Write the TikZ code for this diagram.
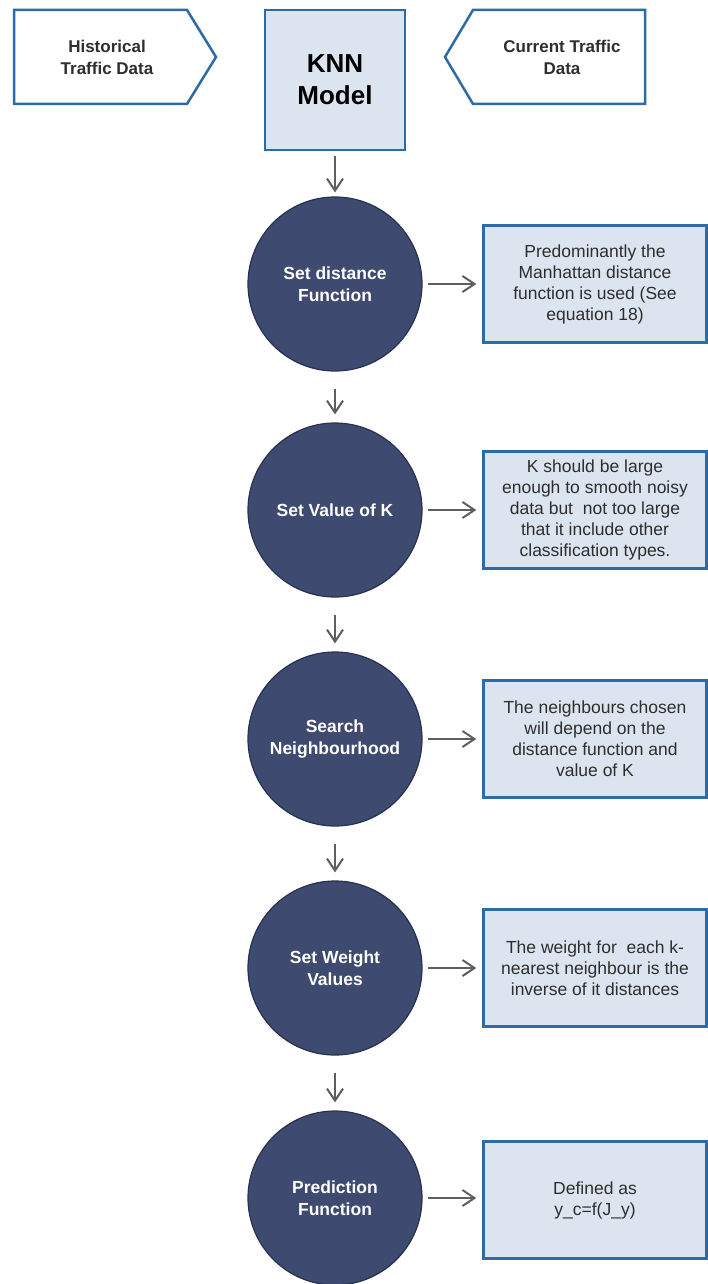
\documentclass[tikz,border=0pt]{standalone}
\usepackage{fontspec}
\setmainfont{Liberation Sans}
\usetikzlibrary{arrows.meta}
\definecolor{edgeblue}{HTML}{2E6BA6}
\definecolor{paleblue}{HTML}{DCE4EF}
\definecolor{navy}{HTML}{3E4A6F}
\definecolor{navyrim}{HTML}{28314F}
\definecolor{arrowgray}{HTML}{5E5E5E}
\definecolor{txt}{HTML}{2E2E2E}
\begin{document}
\begin{tikzpicture}[x=1pt,y=-1pt,
  stepcircle/.style={circle, fill=navy, draw=navyrim, line width=1.2pt,
    minimum size=174pt, inner sep=0pt, text=white,
    font=\fontsize{17.5}{22}\selectfont\bfseries, align=center},
  notebox/.style={rectangle, fill=paleblue, draw=edgeblue, line width=2.5pt,
    minimum width=223pt, minimum height=117pt, inner sep=0pt, text=txt,
    font=\fontsize{17.5}{21}\selectfont, align=center},
  inputshape/.style={draw=edgeblue, fill=white, line width=2.5pt, line join=miter},
  inlabel/.style={text=txt, font=\fontsize{17}{22}\selectfont\bfseries, align=center},
  flow/.style={draw=arrowgray, line width=2pt,
    -{Straight Barb[length=12pt,width=16pt,line width=2pt]}},
]
\useasboundingbox (0,0) rectangle (708,1284);

% input data shapes
\draw[inputshape] (14,10) -- (187,10) -- (216,57) -- (187,104) -- (14,104) -- cycle;
\node[inlabel] (hist) at (107,57) {Historical\\Traffic Data};
\draw[inputshape] (645,10) -- (473,10) -- (445,57) -- (473,104) -- (645,104) -- cycle;
\node[inlabel] (curr) at (562,57) {Current Traffic\\Data};

% model box
\node[rectangle, fill=paleblue, draw=edgeblue, line width=2.5pt,
  minimum width=140pt, minimum height=140pt, inner sep=0pt,
  font=\fontsize{26}{32}\selectfont\bfseries, align=center] (knn) at (335,80) {KNN\\Model};

% process steps
\node[stepcircle] (c1) at (335,284) {Set distance\\Function};
\node[stepcircle] (c2) at (335,510) {Set Value of K};
\node[stepcircle] (c3) at (335,739) {Search\\Neighbourhood};
\node[stepcircle] (c4) at (335,968) {Set Weight\\Values};
\node[stepcircle] (c5) at (335,1198) {Prediction\\Function};

% notes
\node[notebox] (n1) at (595,284) {Predominantly the\\Manhattan distance\\function is used (See\\equation 18)};
\node[notebox] (n2) at (595,510) {K should be large\\enough to smooth noisy\\data but\ \ not too large\\that it include other\\classification types.};
\node[notebox] (n3) at (595,739) {The neighbours chosen\\will depend on the\\distance function and\\value of K};
\node[notebox] (n4) at (595,968) {The weight for\ \ each k-\\nearest neighbour is the\\inverse of it distances};
\node[notebox] (n5) at (595,1200) {Defined as\\y\_c=f(J\_y)};

% vertical flow
\draw[flow] ([yshift=-5pt]knn.south) -- ([yshift=4pt]c1.north);
\draw[flow] ([yshift=-17pt]c1.south) -- ([yshift=8pt]c2.north);
\draw[flow] ([yshift=-17pt]c2.south) -- ([yshift=8pt]c3.north);
\draw[flow] ([yshift=-17pt]c3.south) -- ([yshift=8pt]c4.north);
\draw[flow] ([yshift=-17pt]c4.south) -- ([yshift=8pt]c5.north);

% step to note
\foreach \i in {1,...,5}{
  \draw[flow] ([xshift=5pt]c\i.east) -- ([xshift=-6pt]n\i.west |- c\i.east);
}
\end{tikzpicture}
\end{document}
